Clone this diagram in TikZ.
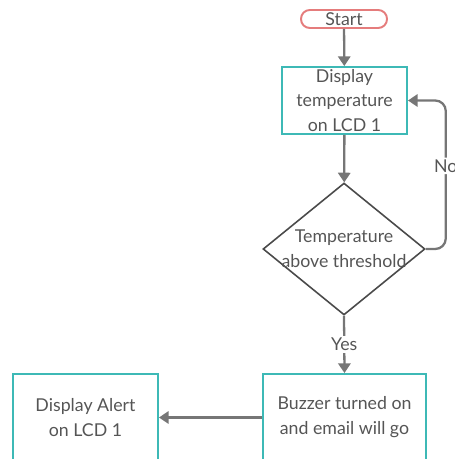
\documentclass[tikz,border=0pt]{standalone}
\usepackage{fontspec}
\setmainfont{Lato}
\usetikzlibrary{shapes.geometric,arrows.meta}
\definecolor{tealc}{HTML}{3DB9B6}
\definecolor{pinkc}{HTML}{E57C7C}
\definecolor{linec}{HTML}{767676}
\definecolor{textc}{HTML}{555555}
\definecolor{edgec}{HTML}{4A4A4A}

\begin{document}
\begin{tikzpicture}[x=0.02cm,y=-0.02cm,
		font=\fontsize{10.1}{14.2}\selectfont, text=textc,
		box/.style={draw=tealc, line width=1.1pt, align=center, inner sep=0pt},
		pill/.style={draw=pinkc, line width=1.1pt, rounded corners=5pt, inner sep=0pt,
			minimum width=1.72cm, minimum height=0.36cm},
		decide/.style={diamond, draw=edgec, line width=0.9pt, inner sep=0pt,
			minimum width=3.24cm, minimum height=2.64cm},
		arr/.style={draw=linec, line width=1.3pt, -{Triangle[width=7pt,length=5.5pt]}},
		lbl/.style={fill=white, inner sep=1pt}]
		\useasboundingbox (0,0) rectangle (454,459);
		\node[pill] (start) at (344,19) {Start};
		\node[box, minimum width=2.5cm, minimum height=1.34cm] (disp) at (344.5,100.5)
			{Display\\temperature\\on LCD 1};
		\node[decide, label={[align=center]center:Temperature\\above threshold}] (dec) at (344,249) {};
		\node[box, minimum width=3.26cm, minimum height=1.74cm] (buzz) at (344.5,417.5)
			{Buzzer turned on\\and email will go};
		\node[box, minimum width=2.9cm, minimum height=1.74cm] (alert) at (85.5,417.5)
			{Display Alert\\on LCD 1};
		% connectors
		\draw[arr] (start) -- (disp);
		\draw[arr] (disp) -- (dec);
		\draw[arr, rounded corners=6pt] (dec.east) -- ++(20,0) |- node[lbl, pos=0.28] {No} (disp.east);
		\draw[arr] (dec.south) -- node[lbl] {Yes} (buzz.north);
		\draw[arr] (buzz.west) -- (alert.east);
	\end{tikzpicture}
\end{document}
